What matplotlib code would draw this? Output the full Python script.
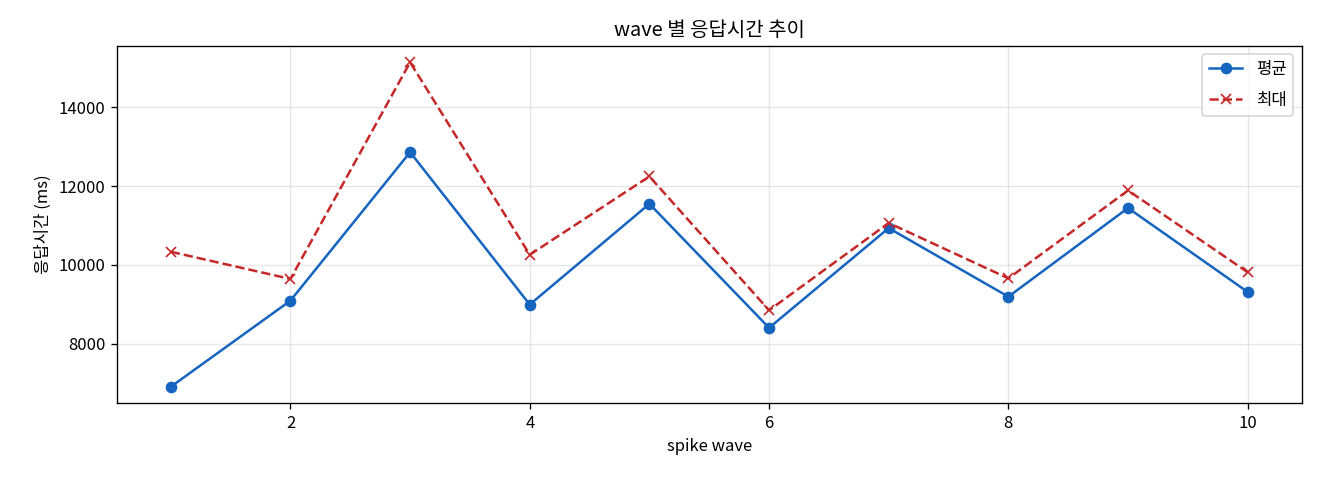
import numpy as np
import matplotlib
matplotlib.use("Agg")
import matplotlib.pyplot as plt

plt.rcParams['font.family'] = ['Noto Sans CJK KR', 'DejaVu Sans']
plt.rcParams['axes.unicode_minus'] = False

# wave 별 응답시간 (ms)
waves = [1, 2, 3, 4, 5, 6, 7, 8, 9, 10]
avg_ms = [6910, 9095, 12860, 8995, 11550, 8405, 10935, 9195, 11445, 9315]
max_ms = [10335, 9645, 15140, 10260, 12245, 8850, 11065, 9660, 11890, 9815]

fig, ax = plt.subplots(figsize=(11, 4), dpi=120)

ax.plot(waves, avg_ms, marker="o", color="#1565C0", linewidth=1.5,
        markersize=6, label="평균")
ax.plot(waves, max_ms, marker="x", linestyle="--", color="#C62828",
        linewidth=1.5, markersize=6, label="최대")

ax.set_title("wave 별 응답시간 추이")
ax.set_xlabel("spike wave")
ax.set_ylabel("응답시간 (ms)")
ax.grid(True, alpha=0.3)
ax.legend(loc="upper right", labelspacing=0.85)

fig.subplots_adjust(left=0.0886, right=0.986, bottom=0.1604, top=0.904)
fig.savefig("out.png")
